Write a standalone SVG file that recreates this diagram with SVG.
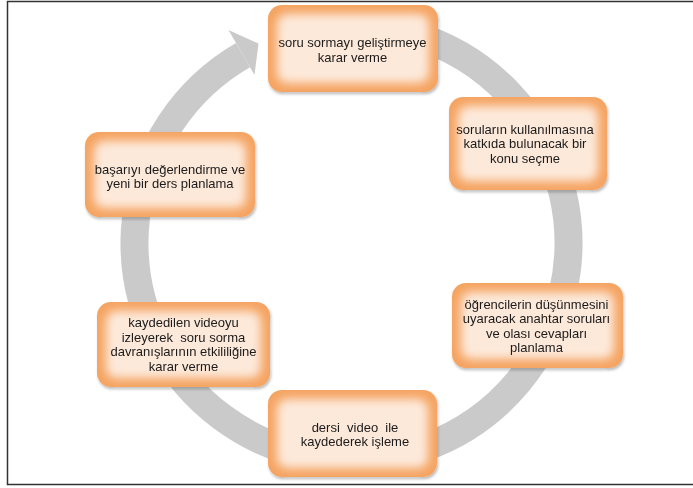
<svg xmlns="http://www.w3.org/2000/svg" width="693" height="488" viewBox="0 0 693 488">
<defs>
<style>
.box{fill:#f5a462;}
.core{fill:#fde9da;filter:url(#soft);}
.lbl{font-family:"Liberation Sans",Arial,sans-serif;font-size:13px;fill:#1a1a1a;text-anchor:middle;}
.ring{fill:none;stroke:#cacaca;stroke-width:28;}
.frame{fill:none;stroke:#333;stroke-width:1.5;}
</style>
<filter id="soft" x="-20%" y="-20%" width="140%" height="140%">
<feGaussianBlur stdDeviation="5"/>
</filter>
<filter id="shadow" x="-10%" y="-10%" width="130%" height="130%">
<feGaussianBlur in="SourceAlpha" stdDeviation="1.5"/>
<feOffset dx="1" dy="1.5" result="b"/>
<feComponentTransfer><feFuncA type="linear" slope="0.3"/></feComponentTransfer>
<feMerge><feMergeNode/><feMergeNode in="SourceGraphic"/></feMerge>
</filter>
</defs>
<rect width="693" height="488" fill="#fff"/>
<path class="frame" d="M693 1.5H7.5V484.5H693"/>
<g id="connectors">
<path class="ring" d="M313.82 29.30A217 217 0 1 1 243.0 55.07"/>
<polygon points="228.5,29.96 258.52,43.61 254.5,74.99" fill="#cacaca"/>
</g>
<g id="n1" filter="url(#shadow)">
<rect class="box" x="268" y="5" width="170" height="87" rx="14"/>
<rect class="core" x="277" y="14" width="152" height="69" rx="10"/>
<text class="lbl" x="352.5" y="47">soru sormayı geliştirmeye</text>
<text class="lbl" x="352.5" y="61.5">karar verme</text>
</g>
<g id="n2" filter="url(#shadow)">
<rect class="box" x="449" y="97" width="158" height="93" rx="14"/>
<rect class="core" x="458" y="106" width="140" height="75" rx="10"/>
<text class="lbl" x="525" y="133.5">soruların kullanılmasına</text>
<text class="lbl" x="525" y="148">katkıda bulunacak bir</text>
<text class="lbl" x="525" y="162.5">konu seçme</text>
</g>
<g id="n3" filter="url(#shadow)">
<rect class="box" x="452" y="283" width="171" height="85" rx="14"/>
<rect class="core" x="461" y="292" width="153" height="67" rx="10"/>
<text class="lbl" x="536.5" y="308.5">öğrencilerin düşünmesini</text>
<text class="lbl" x="536.5" y="323">uyaracak anahtar soruları</text>
<text class="lbl" x="536.5" y="337.5">ve olası cevapları</text>
<text class="lbl" x="536.5" y="352">planlama</text>
</g>
<g id="n4" filter="url(#shadow)">
<rect class="box" x="268" y="390" width="169" height="87" rx="14"/>
<rect class="core" x="277" y="399" width="151" height="69" rx="10"/>
<text class="lbl" x="355" y="431.5" xml:space="preserve">dersi  video  ile</text>
<text class="lbl" x="355" y="445.5">kaydederek işleme</text>
</g>
<g id="n5" filter="url(#shadow)">
<rect class="box" x="97" y="302" width="173" height="85" rx="14"/>
<rect class="core" x="106" y="311" width="155" height="67" rx="10"/>
<text class="lbl" x="183.5" y="327">kaydedilen videoyu</text>
<text class="lbl" x="183.5" y="341.5" xml:space="preserve">izleyerek  soru sorma</text>
<text class="lbl" x="183.5" y="356">davranışlarının etkililiğine</text>
<text class="lbl" x="183.5" y="370.5">karar verme</text>
</g>
<g id="n6" filter="url(#shadow)">
<rect class="box" x="85" y="132" width="170" height="85" rx="14"/>
<rect class="core" x="94" y="141" width="152" height="67" rx="10"/>
<text class="lbl" x="170" y="173.5">başarıyı değerlendirme ve</text>
<text class="lbl" x="170" y="188">yeni bir ders planlama</text>
</g>
</svg>
